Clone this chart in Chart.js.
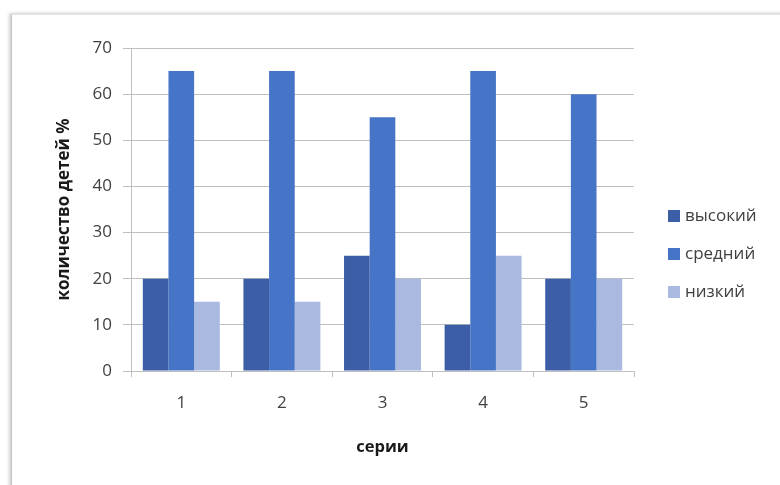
<!DOCTYPE html>
<html><head><meta charset="utf-8">
<script src="https://cdn.jsdelivr.net/npm/chart.js@4"></script>
<style>
html,body{margin:0;padding:0;background:#fff;width:780px;height:485px;overflow:hidden}
#frame{position:absolute;left:11px;top:14px;width:820px;height:520px;border-left:1px solid #c4c4c4;border-top:1px solid #e2e2e2;box-shadow:-2px -1px 3px rgba(0,0,0,0.18)}
#wrap{position:absolute;left:0;top:0;width:780px;height:485px}
</style></head>
<body>
<div id="frame"></div>
<div id="wrap"><canvas id="c" width="780" height="485"></canvas></div>
<script>
const categories = ['1','2','3','4','5'];
const seriesNames = ['высокий','средний','низкий'];
const high = [20,20,25,10,20];
const mid = [65,65,55,65,60];
const low = [15,15,20,25,20];
const yTicks = [0,10,20,30,40,50,60,70];
const colors = ['#3B5EA6','#4674C6','#A9B9DF'];
const FONT = "'Open Sans', 'Liberation Sans', sans-serif";

const customLegend = {
  id:'customLegend',
  afterDraw(chart){
    const ctx = chart.ctx;
    ctx.save();
    ctx.font = "17px " + FONT;
    ctx.textBaseline = 'middle';
    ctx.textAlign = 'left';
    const ys = [216, 254, 292];
    chart.data.datasets.forEach((ds,i)=>{
      ctx.fillStyle = ds.backgroundColor;
      ctx.fillRect(668, ys[i]-6, 12, 12);
      ctx.fillStyle = '#404040';
      ctx.fillText(ds.label, 685, ys[i]);
    });
    ctx.restore();
  }
};

new Chart(document.getElementById('c'), {
  type:'bar',
  data:{
    labels: categories,
    datasets:[
      {label:seriesNames[0], data:high, backgroundColor:colors[0]},
      {label:seriesNames[1], data:mid, backgroundColor:colors[1]},
      {label:seriesNames[2], data:low, backgroundColor:colors[2]}
    ]
  },
  options:{
    responsive:false,
    animation:false,
    devicePixelRatio:1,
    layout:{padding:{left:40, top:48, right:146, bottom:14}},
    datasets:{bar:{barPercentage:1, categoryPercentage:0.765, borderWidth:0}},
    plugins:{legend:{display:false}, tooltip:{enabled:false}},
    scales:{
      x:{
        grid:{display:true, drawOnChartArea:false, drawTicks:true, tickLength:6, color:'#bfbfbf', offset:true},
        border:{display:true, color:'#bfbfbf'},
        ticks:{color:'#404040', font:{size:17, family:FONT}, padding:16},
        title:{display:true, text:'серии', color:'#1a1a1a', font:{size:16.5, weight:'bold', family:FONT}, padding:{top:0,bottom:14}},
        afterFit(s){ s.height = 100; }
      },
      y:{
        min:0, max:70,
        afterBuildTicks(s){ s.ticks = yTicks.map(v=>({value:v})); },
        grid:{color:'#bfbfbf', tickLength:8},
        border:{display:true, color:'#bfbfbf'},
        ticks:{color:'#404040', font:{size:17, family:FONT}, padding:11},
        title:{display:true, text:'количество детей %', color:'#1a1a1a', font:{size:17, weight:'bold', family:FONT}, padding:{top:14,bottom:0}},
        afterFit(s){ s.width = 91; }
      }
    }
  },
  plugins:[customLegend]
});
</script>
</body></html>
